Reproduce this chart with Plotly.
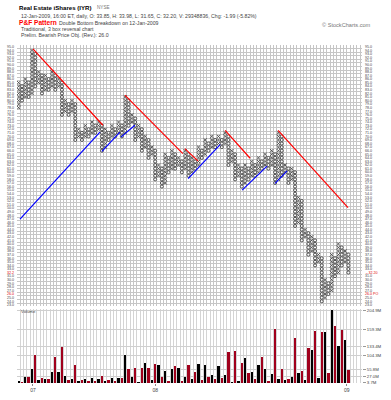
import plotly.graph_objects as go

# ---------------- data ----------------
first_low = 78  # first X column starts here
# end price of each P&F column; columns alternate X, O, X, O ...
column_ends = [85, 80, 86, 81, 94, 84, 88, 82, 87, 83,
               88, 83, 86, 76, 80, 76, 80, 69, 72, 69,
               73, 70, 74, 71, 74, 66, 72, 69, 73, 70,
               74, 70, 81, 73, 76, 69, 73, 66, 70, 64,
               67, 58, 62, 56, 65, 60, 66, 61, 64, 60,
               66, 59, 64, 61, 67, 64, 69, 66, 70, 67,
               70, 67, 71, 62, 66, 58, 62, 56, 62, 58,
               63, 59, 64, 61, 65, 61, 66, 57, 71, 59,
               62, 57, 61, 45, 53, 41, 44, 37, 42, 34,
               37, 24, 30, 26, 37, 31, 40, 34, 38, 32]

# volume per column (millions of shares)
volume_m = [6.4, 2, 16.5, 17.4, 37.6, 77, 9.2, 13.8, 10, 11.9,
            29.3, 74, 31, 100, 20, 7.3, 12, 50.4, 5.5, 9.2,
            12, 5.5, 14.7, 6.4, 10, 20, 6.4, 9.2, 14.7, 6.4,
            12.8, 12.8, 77, 37.6, 16.5, 42, 2, 43, 56, 43,
            9.2, 53, 50, 17.4, 34, 3.7, 39, 46.8, 42, 3.7,
            17.4, 49.5, 12, 31, 54, 9.2, 50, 17.4, 21, 12,
            46, 12.8, 23, 87, 2, 91, 6.4, 57, 70, 29,
            31, 12, 49.5, 73, 39, 6.4, 24.8, 151, 12, 39,
            9.2, 12, 16.5, 126, 28, 34, 9.2, 97, 93.5, 146,
            13.8, 144, 142, 29, 204.9, 159.3, 104.3, 150, 120, 37]

# trend lines: (col0, price0, col1, price1)
resistance_lines = [(4.3, 94.4, 25.3, 73.1),
                    (31.9, 81.5, 49.3, 65.2),
                    (49.9, 66.6, 53.9, 63.1),
                    (62.0, 71.7, 69.5, 63.9),
                    (77.9, 71.7, 98.9, 50.1)]
support_lines = [(0.4, 46.9, 24.4, 71.2),
                 (25.0, 65.8, 30.4, 71.2),
                 (30.7, 69.8, 34.9, 73.1),
                 (50.9, 58.2, 60.5, 67.7),
                 (67.1, 55.0, 74.6, 61.7),
                 (77.0, 56.9, 80.6, 60.4)]

price_levels = list(range(23, 96))
last_price = 32
last_price_text = "32.20"
target_price = 26
target_text = "26.0"

vol_tick_text = ["204.9M", "159.3M", "133.4M", "104.3M", "55.8M", "27.0M", "3.7M"]
vol_tick_pos = [204.9, 149.7, 102.0, 78.5, 38.3, 18.3, 0.8]
year_labels = ["07", "08", "09"]
year_cols = [4.3, 41, 98.5]

# ---------------- build boxes ----------------
x_cols, x_prices, o_cols, o_prices = [], [], [], []
prev = first_low - 1
for i, end in enumerate(column_ends):
    if i % 2 == 0:
        for p in range(prev + 1, end + 1):
            x_cols.append(i); x_prices.append(p)
    else:
        for p in range(prev - 1, end - 1, -1):
            o_cols.append(i); o_prices.append(p)
    prev = end

n_cols = len(column_ends)
cols = list(range(n_cols))
bar_colors = ["#000000" if i % 2 == 0 else "#a0001c" for i in cols]

FONT = "Liberation Sans, Arial, sans-serif"
W, H = 391, 400
ML, MR, MT, MB = 17, 29, 45, 7
PW, PH = W - ML - MR, H - MT - MB


def px_x(px):
    return (px - ML) / PW


def px_y(py):
    return (H - MB - py) / PH


fig = go.Figure()

fig.add_trace(go.Scatter(x=x_cols, y=x_prices, mode="markers",
                         marker=dict(symbol="x-thin", size=3.4,
                                     line=dict(width=0.9, color="#474747")),
                         hoverinfo="skip", xaxis="x", yaxis="y"))
fig.add_trace(go.Scatter(x=o_cols, y=o_prices, mode="markers",
                         marker=dict(symbol="circle-open", size=3.0,
                                     color="#474747",
                                     line=dict(width=0.9, color="#474747")),
                         hoverinfo="skip", xaxis="x", yaxis="y"))

for (c0, p0, c1, p1) in resistance_lines:
    fig.add_trace(go.Scatter(x=[c0, c1], y=[p0, p1], mode="lines",
                             line=dict(color="#ff0000", width=1.2),
                             hoverinfo="skip", xaxis="x", yaxis="y"))
for (c0, p0, c1, p1) in support_lines:
    fig.add_trace(go.Scatter(x=[c0, c1], y=[p0, p1], mode="lines",
                             line=dict(color="#0000ff", width=1.2),
                             hoverinfo="skip", xaxis="x", yaxis="y"))

fig.add_trace(go.Bar(x=cols, y=volume_m, marker=dict(color=bar_colors, line=dict(width=0)),
                     width=0.7, xaxis="x2", yaxis="y2", hoverinfo="skip"))

# right-side invisible trace to activate overlay axis
fig.add_trace(go.Scatter(x=[None], y=[None], xaxis="x", yaxis="y3", showlegend=False))


def price_label(p, right=False):
    if p == last_price:
        txt = ("←" + last_price_text) if right else "32.2"
        return f"<span style='color:#e00000'>{txt}</span>"
    if p == target_price:
        txt = (target_text + " PO") if right else target_text
        return f"<span style='color:#e00000'>{txt}</span>"
    return f"{p:.1f}"


left_text = [price_label(p) for p in price_levels]
right_text = [price_label(p, True) for p in price_levels]

grid_c = "#c6c6c6"
yr = [22.6, 95.5]
xr = [-0.5, 103.1]
tick_font_size = 3.6

fig.update_layout(
    width=W, height=H, margin=dict(l=ML, r=MR, t=MT, b=MB),
    paper_bgcolor="white", plot_bgcolor="white", showlegend=False,
    font=dict(family=FONT, size=5, color="#444"),
    xaxis=dict(domain=[0, 1], range=xr, anchor="y", showticklabels=False, ticks="",
               showgrid=True, gridcolor=grid_c, gridwidth=1, tick0=-0.5, dtick=1,
               zeroline=False, showline=False),
    yaxis=dict(domain=[px_y(314), 1], range=yr, anchor="x", tickmode="array",
               tickvals=price_levels, ticktext=left_text, showgrid=False,
               ticks="", ticklabelstandoff=2, zeroline=False,
               tickfont=dict(size=tick_font_size, color="#444"),
               minor=dict(tick0=0.5, dtick=1, showgrid=True, gridcolor=grid_c, gridwidth=1, ticks="")),
    yaxis3=dict(overlaying="y", side="right", range=yr, anchor="x", tickmode="array",
                tickvals=price_levels, ticktext=right_text, showgrid=False, ticks="",
                ticklabelstandoff=2, zeroline=False,
                tickfont=dict(size=tick_font_size, color="#444")),
    xaxis2=dict(domain=[0, 1], range=xr, anchor="y2", tickmode="array", tickvals=year_cols,
                ticktext=year_labels, showgrid=False, ticks="outside", ticklen=2,
                tickcolor="#888", tickfont=dict(size=5, color="#444"), zeroline=False,
                minor=dict(tick0=-0.5, dtick=1, showgrid=True, gridcolor="#d4d4d4", gridwidth=1, ticks="")),
    yaxis2=dict(domain=[0, px_y(317)], range=[0, 208], anchor="x2", side="right",
                tickmode="array", tickvals=vol_tick_pos, ticktext=vol_tick_text,
                showgrid=True, gridcolor="#cfcfcf", ticks="outside", ticklen=3,
                tickcolor="#999", zeroline=False, tickfont=dict(size=4.3, color="#444")),
    bargap=0,
)

ann = [
    dict(x=px_x(17), y=px_y(6), text="<b>Real Estate iShares (IYR)</b>", font=dict(size=6.1, color="#000")),
    dict(x=px_x(95), y=px_y(6), text="NYSE", font=dict(size=4.6, color="#777")),
    dict(x=px_x(19), y=px_y(15),
         text="12-Jan-2009, 16:00 ET, daily, O: 33.85, H: 33.98, L: 31.65, C: 32.20, V: 29348836, Chg: -1.99 (-5.82%)",
         font=dict(size=5.2, color="#444")),
    dict(x=px_x(17), y=px_y(22), text="<b>P&F Pattern</b>", font=dict(size=6.6, color="#ff0000")),
    dict(x=px_x(57), y=px_y(22), text="Double Bottom Breakdown on 12-Jan-2009", font=dict(size=5.2, color="#444")),
    dict(x=px_x(19), y=px_y(29), text="Traditional, 3 box reversal chart", font=dict(size=5.2, color="#444")),
    dict(x=px_x(19), y=px_y(35), text="Prelim. Bearish Price Obj. (Rev.): 26.0", font=dict(size=5.2, color="#444")),
    dict(x=px_x(320), y=px_y(24), text="© StockCharts.com", font=dict(size=5.6, color="#777")),
    dict(x=px_x(19), y=px_y(319), text="Volume", font=dict(size=4.3, color="#444")),
]
for a in ann:
    a.update(xref="paper", yref="paper", xanchor="left", yanchor="middle", showarrow=False)
fig.update_layout(annotations=ann)

fig.write_html("out.html", config={"displayModeBar": False},
               post_script="document.body.style.margin='0';document.body.style.padding='0';")
